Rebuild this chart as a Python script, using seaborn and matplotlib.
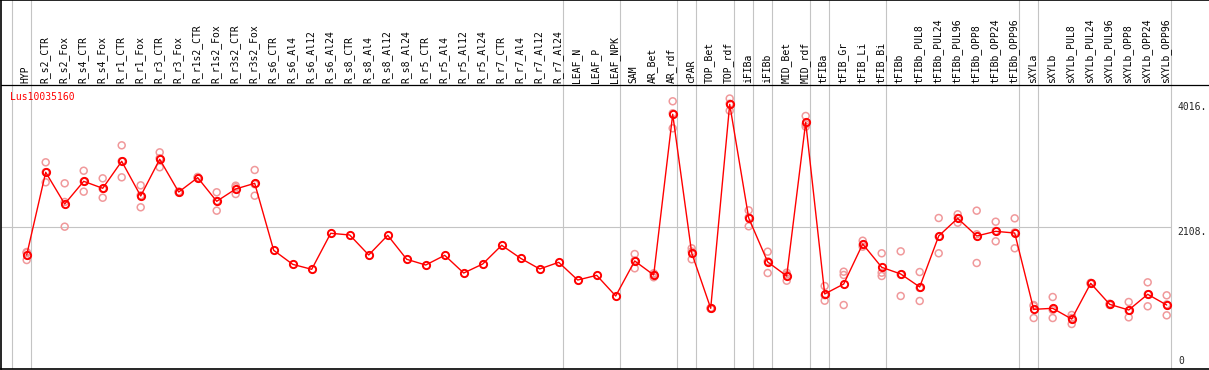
import numpy as np
import pandas as pd
import matplotlib
matplotlib.use("Agg")
import matplotlib.pyplot as plt
import seaborn as sns

#column labels (one per sample)
labels = ['HYP', 'R_s2_CTR', 'R_s2_Fox', 'R_s4_CTR', 'R_s4_Fox', 'R_r1_CTR', 'R_r1_Fox',
          'R_r3_CTR', 'R_r3_Fox', 'R_r1s2_CTR', 'R_r1s2_Fox', 'R_r3s2_CTR', 'R_r3s2_Fox',
          'R_s6_CTR', 'R_s6_Al4', 'R_s6_Al12', 'R_s6_Al24', 'R_s8_CTR', 'R_s8_Al4',
          'R_s8_Al12', 'R_s8_Al24', 'R_r5_CTR', 'R_r5_Al4', 'R_r5_Al12', 'R_r5_Al24',
          'R_r7_CTR', 'R_r7_Al4', 'R_r7_Al12', 'R_r7_Al24', 'LEAF_N', 'LEAF_P', 'LEAF_NPK',
          'SAM', 'AR_Bet', 'AR_rdf', 'cPAR', 'TOP_Bet', 'TOP_rdf', 'iFIBa', 'iFIBb',
          'MID_Bet', 'MID_rdf', 'tFIBa', 'tFIB_Gr', 'tFIB_Li', 'tFIB_Bi', 'tFIBb',
          'tFIBb_PUL8', 'tFIBb_PUL24', 'tFIBb_PUL96', 'tFIBb_OPP8', 'tFIBb_OPP24',
          'tFIBb_OPP96', 'sXYLa', 'sXYLb', 'sXYLb_PUL8', 'sXYLb_PUL24', 'sXYLb_PUL96',
          'sXYLb_OPP8', 'sXYLb_OPP24', 'sXYLb_OPP96']

#mean expression
means = [1693, 2921, 2450, 2787, 2683, 3084, 2569, 3114, 2628, 2841, 2490, 2673, 2757,
         1762, 1554, 1480, 2015, 1990, 1693, 1985, 1629, 1544, 1688, 1425, 1559, 1837,
         1643, 1485, 1584, 1321, 1391, 1084,
         1604, 1396, 3782, 1722, 901, 3930, 2242, 1589, 1381, 3663, 1114, 1262, 1856,
         1510, 1411, 1218, 1975, 2237, 1975, 2044, 2019, 886, 901, 742, 1272, 960, 876,
         1109, 950]

nan = np.nan
#replicates (none shown for the R_s6 .. LEAF columns)
rep_hi = [1737, 3069, 2757, 2944, 2831, 3321, 2727, 3217, 2636, 2852, 2624, 2722, 2955] + [nan] * 19 + \
         [1707, 1421, 3975, 1792, 907, 4016, 2356, 1742, 1430, 3757, 1232, 1445, 1905, 1718,
          1747, 1440, 2242, 2297, 2351, 2187, 2237, 950, 1069, 802, 1280, 970, 995, 1287, 1094]
rep_mid = [1724, 2922, 2480, 2784, 2675, 3085, 2579, 3130, 2628, 2841, 2495, 2699, 2743] + [nan] * 19 + \
          [1610, 1405, 3797, 1745, 901, 3939, 2251, 1600, 1402, 3634, 1096, 1396, 1847, 1430,
           1402, 1204, 1965, 2242, 2000, 2049, 2028, 935, 877, 757, 1272, 960, 866, 1109, 959]
rep_lo = [1618, 2772, 2113, 2633, 2543, 2846, 2401, 2995, 2620, 2830, 2351, 2598, 2573] + [nan] * 19 + \
         [1495, 1362, 3574, 1629, 895, 3835, 2119, 1425, 1311, 3598, 1014, 950, 1816, 1381,
          1084, 1010, 1718, 2172, 1574, 1896, 1792, 757, 757, 668, 1265, 950, 767, 931, 797]

#group separators (gridline after these columns)
group_ends = [-1, 0, 28, 31, 34, 35, 37, 38, 39, 41, 42, 45, 52, 53, 60]
gene = 'Lus10035160'

#%% data frames
n = len(labels)
pos = np.arange(n)
df = pd.DataFrame({'pos': pos, 'value': means})
reps = pd.DataFrame({'pos': np.tile(pos, 3), 'value': rep_hi + rep_mid + rep_lo}).dropna()

vmax = max(rep_hi[i] for i in range(n) if not np.isnan(rep_hi[i]))
ytop = vmax * 1.05

#%% plot
sns.set_style('white')
plt.rcParams['font.family'] = ['DejaVu Sans Mono', 'DejaVu Sans']

fig = plt.figure(figsize=(12.09, 3.70), dpi=100)
ax = fig.add_axes([1 / 1209, 1 / 370, 1208 / 1209, 369 / 370])

step = 19.0          # pixels per column
x0 = 26.7            # pixel of first column
ax.set_xlim((1 - x0) / step, (1209 - x0) / step)
ax.set_ylim(0, ytop * 369 / 284)

#grid
for g in group_ends:
    ax.axvline(g + 0.21, color='#c4c4c4', lw=0.8, zorder=1)
ax.hlines(ytop / 2, (1 - x0) / step, n - 1 + 0.21, color='#c4c4c4', lw=0.8, zorder=1)
ax.axhline(ytop, color='black', lw=0.9, zorder=2)

#replicates then means
sns.scatterplot(data=reps, x='pos', y='value', marker='o', s=25, facecolors='none',
                edgecolor='#f0999b', linewidth=1.1, ax=ax, zorder=3, legend=False)
sns.lineplot(data=df, x='pos', y='value', color='red', lw=1.0, marker='o', markersize=5.2,
             markerfacecolor='none', markeredgecolor='red', markeredgewidth=1.4,
             ax=ax, zorder=4, legend=False)

#column labels
for i, lab in enumerate(labels):
    ax.annotate(lab, xy=(i, ytop), xytext=(-1, 1.5), textcoords='offset pixels',
                rotation=90, ha='center', va='bottom', fontsize=7, color='black')

#gene name
ax.annotate(gene, xy=((1 - x0) / step, ytop), xytext=(9, -7), textcoords='offset pixels',
            ha='left', va='top', fontsize=7, color='red')

#value labels on the right
xr = n - 1 + 0.21
ax.annotate('%d.' % vmax, xy=(xr, vmax), xytext=(7, -3), textcoords='offset pixels',
            ha='left', va='top', fontsize=7)
ax.annotate('%d.' % int(ytop / 2), xy=(xr, ytop / 2), xytext=(7, -0.5), textcoords='offset pixels',
            ha='left', va='top', fontsize=7)
ax.annotate('0', xy=(xr, 0), xytext=(8, 3), textcoords='offset pixels',
            ha='left', va='bottom', fontsize=7)

ax.set_xticks([])
ax.set_yticks([])
ax.set_xlabel('')
ax.set_ylabel('')
ax.spines['right'].set_visible(False)
for s in ['left', 'top', 'bottom']:
    ax.spines[s].set_color('black')
    ax.spines[s].set_linewidth(1.2)

fig.savefig('out.png', dpi=100)
